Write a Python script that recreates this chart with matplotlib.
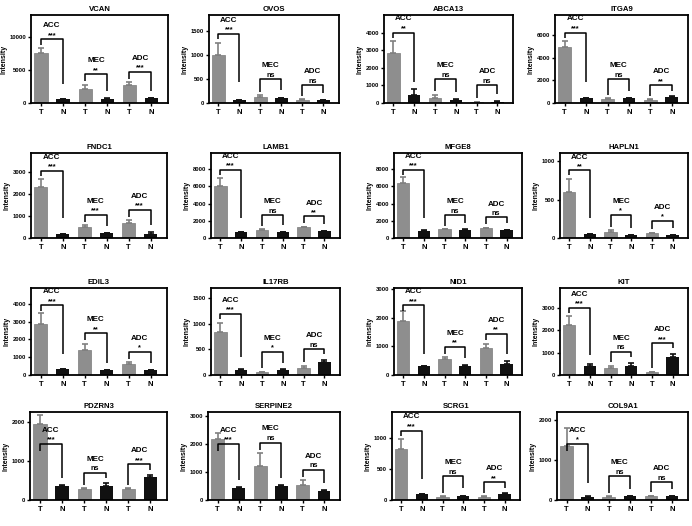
import numpy as np
import matplotlib.pyplot as plt

plt.rcParams['font.family'] = ['Liberation Sans', 'DejaVu Sans']
plt.rcParams['font.weight'] = 'bold'
plt.rcParams['axes.labelweight'] = 'bold'
plt.rcParams['axes.titleweight'] = 'bold'

genes = ['VCAN', 'OVOS', 'ABCA13', 'ITGA9',
         'FNDC1', 'LAMB1', 'MFGE8', 'HAPLN1',
         'EDIL3', 'IL17RB', 'NID1', 'KIT',
         'PDZRN3', 'SERPINE2', 'SCRG1', 'COL9A1']
groups = ['ACC', 'MEC', 'ADC']

# tumour (T) mean / SEM per group ACC, MEC, ADC
t_mean = [[7580, 2120, 2730], [1007, 120, 63], [2857, 305, 57], [4920, 370, 310],
          [2318, 500, 682], [6020, 930, 1280], [6420, 1000, 1150], [605, 79, 61],
          [2887, 1415, 604], [836, 52, 130], [1895, 550, 935], [2217, 332, 120],
          [1950, 280, 280], [2170, 1200, 520], [825, 50, 50], [1360, 80, 90]]
t_err = [[750, 650, 400], [247, 42, 15], [650, 150, 15], [560, 30, 25],
         [380, 80, 136], [970, 120, 50], [700, 50, 60], [167, 21, 9],
         [603, 340, 113], [184, 8, 53], [350, 80, 153], [392, 90, 15],
         [220, 20, 20], [230, 480, 180], [160, 8, 8], [430, 10, 10]]
# normal (N) mean / SEM
n_mean = [[600, 650, 750], [63, 106, 56], [476, 190, 76], [430, 400, 525],
          [182, 212, 197], [660, 660, 780], [846, 960, 920], [48, 39, 35],
          [320, 283, 283], [105, 98, 248], [304, 327, 398], [422, 422, 815],
          [350, 350, 580], [420, 490, 320], [95, 65, 100], [80, 90, 90]]
n_err = [[80, 60, 80], [8, 8, 6], [345, 60, 15], [30, 40, 60],
         [10, 30, 90], [40, 30, 70], [40, 40, 40], [4, 4, 3],
         [20, 20, 20], [13, 10, 52], [20, 15, 82], [75, 106, 135],
         [30, 80, 60], [30, 60, 30], [10, 8, 12], [8, 8, 8]]
signif = [['***', '**', '***'], ['***', 'ns', 'ns'], ['**', 'ns', 'ns'], ['***', 'ns', '**'],
          ['***', '***', '***'], ['***', 'ns', '**'], ['***', 'ns', 'ns'], ['**', '*', '*'],
          ['***', '**', '*'], ['***', '*', 'ns'], ['***', '**', '**'], ['***', 'ns', '***'],
          ['***', 'ns', '***'], ['***', 'ns', 'ns'], ['***', 'ns', '**'], ['*', 'ns', 'ns']]
y_max = [13400, 1830, 5000, 7800, 3890, 9900, 9900, 1110,
         4900, 1700, 3050, 3875, 2250, 3150, 1430, 2200]
y_step = [5000, 500, 1000, 2000, 1000, 2000, 2000, 500,
          1000, 500, 1000, 1000, 1000, 1000, 500, 1000]

# axes boxes in pixels: (top, bottom) per row, (left, right) per panel
row_tb = [(15, 103), (153, 238), (288, 375), (412, 500)]
col_lr = [[(31, 168), (209, 339), (384, 513), (555, 688)],
          [(31, 167), (211, 340), (394, 522), (560, 688)],
          [(31, 167), (211, 340), (394, 522), (560, 688)],
          [(30, 167), (208, 340), (392, 520), (557, 688)]]

W, H = 692, 526
fig = plt.figure(figsize=(W / 100, H / 100), dpi=100)

xpos = np.arange(6)
gray = '#8e8e8e'
black = '#111111'

for k, gene in enumerate(genes):
    r, c = divmod(k, 4)
    l, rr = col_lr[r][c]
    t, b = row_tb[r]
    ax = fig.add_axes([l / W, 1 - b / H, (rr - l) / W, (b - t) / H])

    ym = y_max[k]
    for g in range(3):
        xt, xn = 2 * g, 2 * g + 1
        ax.bar(xt, t_mean[k][g], width=0.6, color=gray, edgecolor='#7a7a7a', linewidth=0.5, zorder=2)
        ax.errorbar(xt, t_mean[k][g], yerr=[[0], [t_err[k][g]]], color='#808080',
                    capsize=2.5, elinewidth=1.2, capthick=1.2, zorder=1)
        ax.bar(xn, n_mean[k][g], width=0.6, color=black, zorder=2)
        ax.errorbar(xn, n_mean[k][g], yerr=[[0], [n_err[k][g]]], color=black,
                    capsize=2.5, elinewidth=1.2, capthick=1.2, zorder=1)

        top_t = (t_mean[k][g] + t_err[k][g]) / ym
        top_n = (n_mean[k][g] + n_err[k][g]) / ym
        if g == 0:
            br = min(max(top_t, top_n) + 0.1, 0.8)
            if top_t > 0.755:
                br = 0.64
        else:
            br = max(max(top_t, top_n) + 0.12, 0.27 if g == 1 else 0.2)
        lb = min(top_t + 0.04, br - 0.06)
        if lb < 0 or g == 0 and top_t > 0.755:
            lb = br - 0.08
        rb = min(max(top_n + 0.08, br * 0.3), br - 0.06)
        ax.plot([xt, xt, xn, xn], [lb * ym, br * ym, br * ym, rb * ym],
                color='black', lw=1.1, solid_capstyle='butt', zorder=3)
        ax.text(xt + 0.5, (br + 0.005) * ym, signif[k][g], ha='center', va='bottom',
                fontsize=5.2)
        ax.text(xt + 0.5, (br + 0.115) * ym, groups[g], ha='center', va='bottom', fontsize=5.8)

    ax.set_xlim(-0.45, 5.75)
    ax.set_ylim(0, ym)
    ax.set_yticks(np.arange(0, ym, y_step[k]))
    ax.set_xticks(xpos)
    ax.set_xticklabels(['T', 'N'] * 3)
    ax.tick_params(axis='x', labelsize=5.5, length=2, width=1, pad=2)
    ax.tick_params(axis='y', labelsize=4.2, length=2.5, width=1, pad=1)
    for s in ax.spines.values():
        s.set_linewidth(1.3)
    ax.set_ylabel('Intensity', fontsize=5, labelpad=1.5)
    ax.set_title(gene, fontsize=5.6, pad=3)

fig.savefig('out.png', dpi=100)
